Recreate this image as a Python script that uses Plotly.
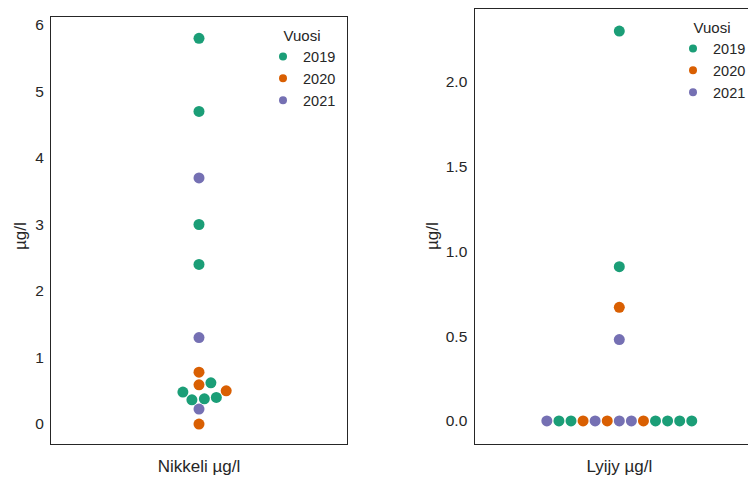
import numpy as np
import plotly.graph_objects as go

# ---------------- data ----------------
YEARS = [2019, 2020, 2021]
COLORS = {2019: "#1b9e77", 2020: "#d95f02", 2021: "#7570b3"}

panel_labels = ["Nikkeli µg/l", "Lyijy µg/l"]
y_title = "µg/l"
legend_title = "Vuosi"

nikkeli_values = [5.8, 4.7, 3.0, 2.4, 0.62, 0.48, 0.40, 0.38, 0.365,
                  0.78, 0.59, 0.50, 0.0,
                  3.7, 1.3, 0.225]
nikkeli_years = [2019, 2019, 2019, 2019, 2019, 2019, 2019, 2019, 2019,
                 2020, 2020, 2020, 2020,
                 2021, 2021, 2021]

lyijy_values = [0.0, 0.0, 0.0, 0.0, 0.0, 0.0, 0.0, 0.0, 0.0, 0.0, 0.0, 0.0, 0.0,
                0.48, 0.67, 0.91, 2.3]
lyijy_years = [2021, 2020, 2021, 2021, 2020, 2020, 2019, 2019, 2019, 2019, 2019, 2021, 2019,
               2021, 2020, 2019, 2019]

nikkeli_yticks = [0, 1, 2, 3, 4, 5, 6]
lyijy_yticks = [0.0, 0.5, 1.0, 1.5, 2.0]

# ---------------- layout constants ----------------
OFF = 8  # page body margin: figure starts at (8, 8) in the window
W, H = 756 - OFF, 482 - OFF
TEXT = "#262626"
FONT = "Liberation Sans, Arial, sans-serif"
MARKER = 11
D = 11.5  # collision diameter in px


def fx(x):
    return (x - OFF) / W


def fy(y):
    return 1 - (y - OFF) / H


panels = [
    dict(box=(51, 347, 17, 444), xr=[-0.5, 0.5], yr=[-0.30, 6.12],
         vals=nikkeli_values, yrs=nikkeli_years, ticks=nikkeli_yticks,
         fmt="{:.0f}", mirror=True),
    dict(box=(474.5, 756, 9, 444), xr=[-0.5, 0.472], yr=[-0.136, 2.43],
         vals=lyijy_values, yrs=lyijy_years, ticks=lyijy_yticks,
         fmt="{:.1f}", mirror=False),
]


def swarm(values, px_x, px_y, d):
    """Beeswarm layout (seaborn-like) -> x offsets in data units."""
    values = np.asarray(values, float)
    order = np.argsort(values, kind="stable")
    placed = []
    offs = np.zeros(len(values))
    for i in order:
        y = values[i] * px_y
        nb = [(xj, yj) for (xj, yj) in placed if abs(y - yj) < d]
        cands = [0.0]
        left_first = True
        for xj, yj in nb:
            dx = np.sqrt(max(d * d - (y - yj) ** 2, 0)) * 1.05
            pair = [xj - dx, xj + dx] if left_first else [xj + dx, xj - dx]
            cands += pair
            left_first = not left_first
        cands = np.round(np.array(cands), 6)
        cands = cands[np.argsort(np.abs(cands), kind="stable")]
        chosen = cands[-1]
        for c in cands:
            if all((c - xj) ** 2 + (y - yj) ** 2 >= (d * d) * 0.999 for xj, yj in nb):
                chosen = c
                break
        placed.append((chosen, y))
        offs[i] = chosen / px_x
    return offs


fig = go.Figure()
layout = dict(width=W, height=H, margin=dict(l=0, r=0, t=0, b=0, autoexpand=False),
              paper_bgcolor="white", plot_bgcolor="white",
              font=dict(family=FONT, color=TEXT), showlegend=True)

annotations = []
for k, p in enumerate(panels):
    x0, x1, y0, y1 = p["box"]
    px_x = (x1 - x0) / (p["xr"][1] - p["xr"][0])
    px_y = (y1 - y0) / (p["yr"][1] - p["yr"][0])
    offs = swarm(p["vals"], px_x, px_y, D)
    sfx = "" if k == 0 else str(k + 1)
    vals = np.asarray(p["vals"])
    yrs = np.asarray(p["yrs"])
    for yr in YEARS:
        m = yrs == yr
        fig.add_trace(go.Scatter(
            x=offs[m], y=vals[m], mode="markers", showlegend=False,
            marker=dict(size=MARKER, color=COLORS[yr], line=dict(width=0)),
            xaxis="x" + sfx, yaxis="y" + sfx, name=str(yr)))
    for yr in YEARS:
        fig.add_trace(go.Scatter(
            x=[None], y=[None], mode="markers", name=str(yr),
            marker=dict(size=8, color=COLORS[yr]),
            xaxis="x" + sfx, yaxis="y" + sfx,
            legend="legend" + sfx))
    layout["xaxis" + sfx] = dict(
        domain=[fx(x0), min(fx(x1), 1.0)], range=p["xr"], anchor="y" + sfx,
        tickvals=[0], ticktext=[panel_labels[k]], ticks="",
        tickfont=dict(size=17, color=TEXT), ticklabelstandoff=6,
        showline=True, mirror=True, linecolor=TEXT, linewidth=1.25,
        showgrid=False, zeroline=False, fixedrange=True)
    layout["yaxis" + sfx] = dict(
        domain=[fy(y1), fy(y0)], range=p["yr"], anchor="x" + sfx,
        tickvals=p["ticks"], ticktext=[p["fmt"].format(t) for t in p["ticks"]],
        ticks="", tickfont=dict(size=15.5, color=TEXT), ticklabelstandoff=3,
        showline=True, mirror=p["mirror"], linecolor=TEXT, linewidth=1.25,
        showgrid=False, zeroline=False, fixedrange=True)
    tx = 20 if k == 0 else 432
    annotations.append(dict(text=y_title, x=fx(tx), y=fy(236), xref="paper",
                            yref="paper", showarrow=False, textangle=-90,
                            font=dict(size=17, color=TEXT),
                            xanchor="center", yanchor="middle"))

layout["legend"] = dict(x=fx(263), y=fy(21), xanchor="left", yanchor="top",
                        title=dict(text=legend_title, side="top center",
                                   font=dict(size=15, color=TEXT)),
                        font=dict(size=14.5, color=TEXT), bgcolor="rgba(0,0,0,0)",
                        tracegroupgap=0)
layout["legend2"] = dict(x=fx(673), y=fy(13), xanchor="left", yanchor="top",
                         title=dict(text=legend_title, side="top center",
                                    font=dict(size=15, color=TEXT)),
                         font=dict(size=14.5, color=TEXT), bgcolor="rgba(0,0,0,0)",
                         tracegroupgap=0)
layout["annotations"] = annotations
fig.update_layout(**layout)
fig.write_html("out.html")
